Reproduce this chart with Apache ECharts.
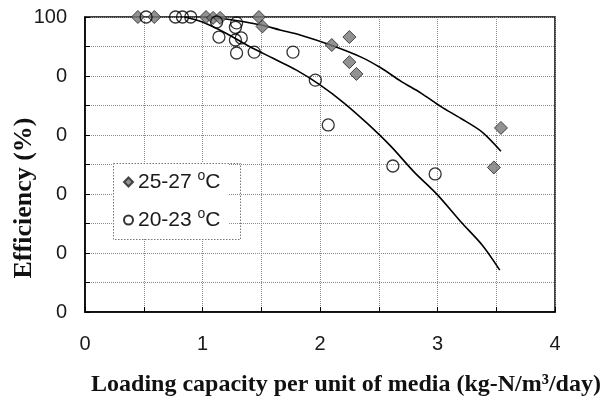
<!DOCTYPE html>
<html><head><meta charset="utf-8">
<script src="https://cdn.jsdelivr.net/npm/echarts@6/dist/echarts.min.js"></script>
<style>html,body{margin:0;padding:0;background:#fff}#c{width:607px;height:405px}</style>
</head><body><div id="c"></div>
<script>
// ---- data ----
const seriesNames = ['25-27', '20-23'];
const warmX = [0.45, 0.59, 1.03, 1.09, 1.15, 1.48, 1.51, 2.10, 2.25, 2.25, 2.31, 3.48, 3.54];
const warmY = [100, 100, 100, 99.7, 99.7, 100, 96.8, 90.5, 93.2, 84.7, 80.7, 49, 62.4];
const coolX = [0.52, 0.77, 0.83, 0.90, 1.12, 1.14, 1.28, 1.29, 1.28, 1.33, 1.29, 1.44, 1.77, 1.96, 2.07, 2.62, 2.98];
const coolY = [100, 100, 100, 100, 98.3, 93.2, 96.5, 98, 92.2, 92.9, 87.8, 88.1, 88.1, 78.6, 63.4, 49.5, 46.8];
const fitWarmX = [1.0, 1.2, 1.5, 1.66, 1.83, 2.09, 2.35, 2.52, 2.69, 2.86, 3.03, 3.2, 3.38, 3.54];
const fitWarmY = [100, 99.3, 97.3, 95.6, 93.9, 90.5, 86.4, 82.7, 78.2, 74.2, 69.6, 65.6, 61, 54.5];
const fitCoolX = [0.85, 1.0, 1.2, 1.4, 1.6, 1.8, 2.0, 2.2, 2.4, 2.6, 2.8, 3.0, 3.2, 3.38, 3.53];
const fitCoolY = [100, 98.3, 94.5, 90, 86, 82, 77, 71, 64, 56.3, 47.5, 39.7, 30.5, 22.7, 14.2];
const xTickValues = [0, 1, 2, 3, 4];
const xTickLabels = ['0', '1', '2', '3', '4'];
const yTickValues = [0, 20, 40, 60, 80, 100];
const yTickLabels = ['0', '0', '0', '0', '0', '100'];
const xTitle = 'Loading capacity per unit of media (kg-N/m³/day)';
const yTitle = 'Efficiency (%)';

const zip = (a, b) => a.map((v, i) => [v, b[i]]);
const chart = echarts.init(document.getElementById('c'), null, {renderer: 'canvas'});
const grid = {left: 85, right: 52, top: 17, bottom: 93, show: true, borderColor: '#000', borderWidth: 1.5};
const gridStyle = {show: true, lineStyle: {color: '#8a8a8a', type: 'dotted', width: 1}};
chart.setOption({
  animation: false,
  backgroundColor: '#fff',
  grid: grid,
  xAxis: {
    type: 'value', min: 0, max: 4, interval: 0.5,
    axisLine: {show: true, lineStyle: {color: '#000', width: 1.5}},
    axisTick: {show: true, inside: true, length: 5, lineStyle: {color: '#000'}},
    splitLine: gridStyle,
    axisLabel: {
      margin: 22, fontFamily: 'Liberation Sans', fontSize: 20, color: '#1a1a1a',
      formatter: v => { const i = xTickValues.indexOf(v); return i >= 0 ? xTickLabels[i] : ''; }
    }
  },
  yAxis: {
    type: 'value', min: 0, max: 100, interval: 10,
    axisLine: {show: true, lineStyle: {color: '#000', width: 1.5}},
    axisTick: {show: true, inside: true, length: 5, lineStyle: {color: '#000'}},
    splitLine: gridStyle,
    axisLabel: {
      margin: 18, fontFamily: 'Liberation Sans', fontSize: 20, color: '#1a1a1a',
      formatter: v => { const i = yTickValues.indexOf(v); return i >= 0 ? yTickLabels[i] : ''; }
    }
  },
  legend: {
    data: seriesNames, orient: 'vertical', left: 113, top: 163,
    padding: [6, 8, 6, 10], itemGap: 12, itemWidth: 9, itemHeight: 9,
    backgroundColor: '#fff', borderWidth: 0,
    formatter: n => n + ' {sup|o}C',
    textStyle: {
      fontFamily: 'Liberation Sans', fontSize: 21, color: '#1a1a1a', lineHeight: 26,
      rich: {sup: {fontFamily: 'Liberation Sans', fontSize: 14, lineHeight: 14, verticalAlign: 'top', color: '#1a1a1a'}}
    }
  },
  series: [
    {name: 'fitWarm', type: 'line', data: zip(fitWarmX, fitWarmY), smooth: 0.3, showSymbol: false, silent: true,
     lineStyle: {color: '#000', width: 1.6}, z: 2},
    {name: 'fitCool', type: 'line', data: zip(fitCoolX, fitCoolY), smooth: 0.3, showSymbol: false, silent: true,
     lineStyle: {color: '#000', width: 1.6}, z: 2},
    {name: seriesNames[0], type: 'scatter', data: zip(warmX, warmY), symbol: 'diamond', symbolSize: 13,
     itemStyle: {color: '#777', borderColor: '#222', borderWidth: 1}, z: 3},
    {name: seriesNames[1], type: 'scatter', data: zip(coolX, coolY), symbol: 'circle', symbolSize: 12,
     itemStyle: {color: 'rgba(255,255,255,0)', borderColor: '#000', borderWidth: 1.3}, z: 3}
  ],
  graphic: [
    {type: 'rect', z: 100, shape: {x: 113.5, y: 163.5, width: 127, height: 76},
     style: {fill: 'none', stroke: '#777', lineWidth: 1, lineDash: [1.5, 1.5]}},
    {type: 'text', style: {text: xTitle, x: 346, y: 385, align: 'center', verticalAlign: 'middle',
      font: 'bold 24px "Liberation Serif"', fill: '#111'}},
    {type: 'text', x: 24, y: 198, rotation: Math.PI / 2, style: {text: yTitle, x: 0, y: 0, align: 'center', verticalAlign: 'middle',
      font: 'bold 26px "Liberation Serif"', fill: '#111'}}
  ]
});
</script></body></html>
